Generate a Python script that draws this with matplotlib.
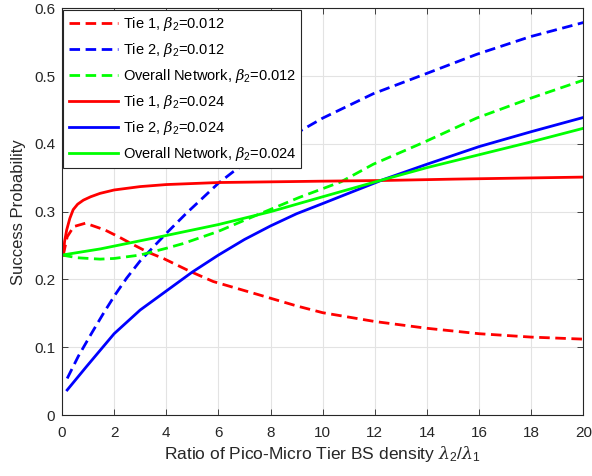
import matplotlib
matplotlib.use('Agg')
from matplotlib import pyplot as plt

# Tier 1, beta_2 = 0.012 (dashed red)
tie1_a_x = [0.05, 0.2, 0.45, 0.9, 1.65, 2.22, 2.7, 3.31, 3.89, 4.91, 5.8, 7.5, 9.0, 10.0, 12.0, 14.0, 16.0, 18.0, 20.0]
tie1_a_y = [0.236, 0.263, 0.278, 0.283, 0.273, 0.262, 0.252, 0.240, 0.231, 0.212, 0.197, 0.178, 0.161, 0.151,
            0.138, 0.128, 0.120, 0.115, 0.112]

# Tier 2, beta_2 = 0.012 (dashed blue)
tie2_a_x = [0.2, 0.63, 1.14, 1.59, 2.03, 2.48, 2.99, 3.63, 4.0, 4.78, 5.17, 6.0, 6.57, 7.3, 8.2, 9.0, 10.0,
            11.94, 13.86, 15.9, 17.95, 20.0]
tie2_a_y = [0.054, 0.087, 0.121, 0.150, 0.177, 0.202, 0.227, 0.253, 0.268, 0.298, 0.312, 0.342, 0.359, 0.378,
            0.399, 0.416, 0.438, 0.474, 0.502, 0.532, 0.558, 0.579]

# Overall network, beta_2 = 0.012 (dashed green)
all_a_x = [0.0, 0.6, 1.46, 2.0, 2.99, 4.0, 4.65, 6.0, 7.1, 8.1, 9.1, 10.7, 11.94, 13.86, 15.9, 17.95, 20.0]
all_a_y = [0.236, 0.232, 0.230, 0.231, 0.236, 0.246, 0.253, 0.271, 0.289, 0.305, 0.321, 0.344, 0.370, 0.402,
           0.438, 0.467, 0.494]

# Tier 1, beta_2 = 0.024 (solid red)
tie1_b_x = [0.05, 0.1, 0.18, 0.3, 0.43, 0.6, 0.82, 1.1, 1.46, 2.0, 3.0, 4.0, 6.0, 8.0, 10.0, 12.3, 15.0, 20.0]
tie1_b_y = [0.236, 0.256, 0.273, 0.290, 0.303, 0.311, 0.317, 0.322, 0.327, 0.332, 0.337, 0.340, 0.343, 0.344,
            0.345, 0.346, 0.348, 0.351]

# Tier 2, beta_2 = 0.024 (solid blue)
tie2_b_x = [0.2, 0.95, 2.0, 3.0, 4.0, 5.0, 6.0, 7.0, 8.0, 9.0, 10.0, 12.3, 14.0, 16.0, 18.0, 20.0]
tie2_b_y = [0.037, 0.072, 0.120, 0.155, 0.183, 0.211, 0.236, 0.259, 0.279, 0.297, 0.312, 0.347, 0.370, 0.396,
            0.418, 0.439]

# Overall network, beta_2 = 0.024 (solid green)
all_b_x = [0.0, 1.46, 3.89, 6.0, 8.0, 10.0, 12.3, 14.0, 16.0, 18.0, 20.0]
all_b_y = [0.236, 0.245, 0.264, 0.281, 0.300, 0.322, 0.347, 0.365, 0.384, 0.403, 0.423]

plt.rcParams['font.family'] = ['Liberation Sans', 'DejaVu Sans']
plt.rcParams['mathtext.fontset'] = 'custom'
plt.rcParams['mathtext.it'] = 'DejaVu Serif:italic'
plt.rcParams['mathtext.rm'] = 'Liberation Sans'

AX_COLOR = '#262626'
dash = (3.8, 2.0)
LW = 2.0

fig = plt.figure(figsize=(5.92, 4.76), dpi=100)
ax = fig.add_axes([0.1047, 0.128, 0.8808, 0.8546])

ax.plot(tie1_a_x, tie1_a_y, color='#ff0000', lw=LW, dashes=dash, label=r'Tie 1, $\beta_2$=0.012')
ax.plot(tie2_a_x, tie2_a_y, color='#0000ff', lw=LW, dashes=dash, label=r'Tie 2, $\beta_2$=0.012')
ax.plot(all_a_x, all_a_y, color='#00ff00', lw=LW, dashes=dash, label=r'Overall Network, $\beta_2$=0.012')
ax.plot(tie1_b_x, tie1_b_y, color='#ff0000', lw=LW, label=r'Tie 1, $\beta_2$=0.024')
ax.plot(tie2_b_x, tie2_b_y, color='#0000ff', lw=LW, label=r'Tie 2, $\beta_2$=0.024')
ax.plot(all_b_x, all_b_y, color='#00ff00', lw=LW, label=r'Overall Network, $\beta_2$=0.024')

ax.set_xlim(0, 20)
ax.set_ylim(0, 0.6)
ax.set_xticks(range(0, 21, 2))
ax.set_yticks([0, 0.1, 0.2, 0.3, 0.4, 0.5, 0.6])
ax.set_yticklabels(['0', '0.1', '0.2', '0.3', '0.4', '0.5', '0.6'])
ax.grid(True, color='#e3e3e3', lw=0.8)
ax.set_axisbelow(True)
ax.tick_params(direction='in', top=True, right=True, length=4, width=0.6,
               colors=AX_COLOR, labelsize=11, labelcolor=AX_COLOR)
ax.tick_params(axis='x', pad=8)
ax.tick_params(axis='y', pad=5)
for s in ax.spines.values():
    s.set_color(AX_COLOR)
    s.set_linewidth(0.8)

ax.set_xlabel(r'Ratio of Pico-Micro Tier BS density $\lambda_2/\lambda_1$', fontsize=12.5, color=AX_COLOR, labelpad=3)
ax.set_ylabel('Success Probability', fontsize=12, color=AX_COLOR, labelpad=6)

leg = ax.legend(loc='upper left', fontsize=10.5, handlelength=3.4, handletextpad=0.3, labelspacing=0.55,
                borderpad=0.35, borderaxespad=0.1, fancybox=False, framealpha=1, edgecolor=AX_COLOR)
leg.get_frame().set_linewidth(0.8)

fig.savefig('out.png', dpi=100)
